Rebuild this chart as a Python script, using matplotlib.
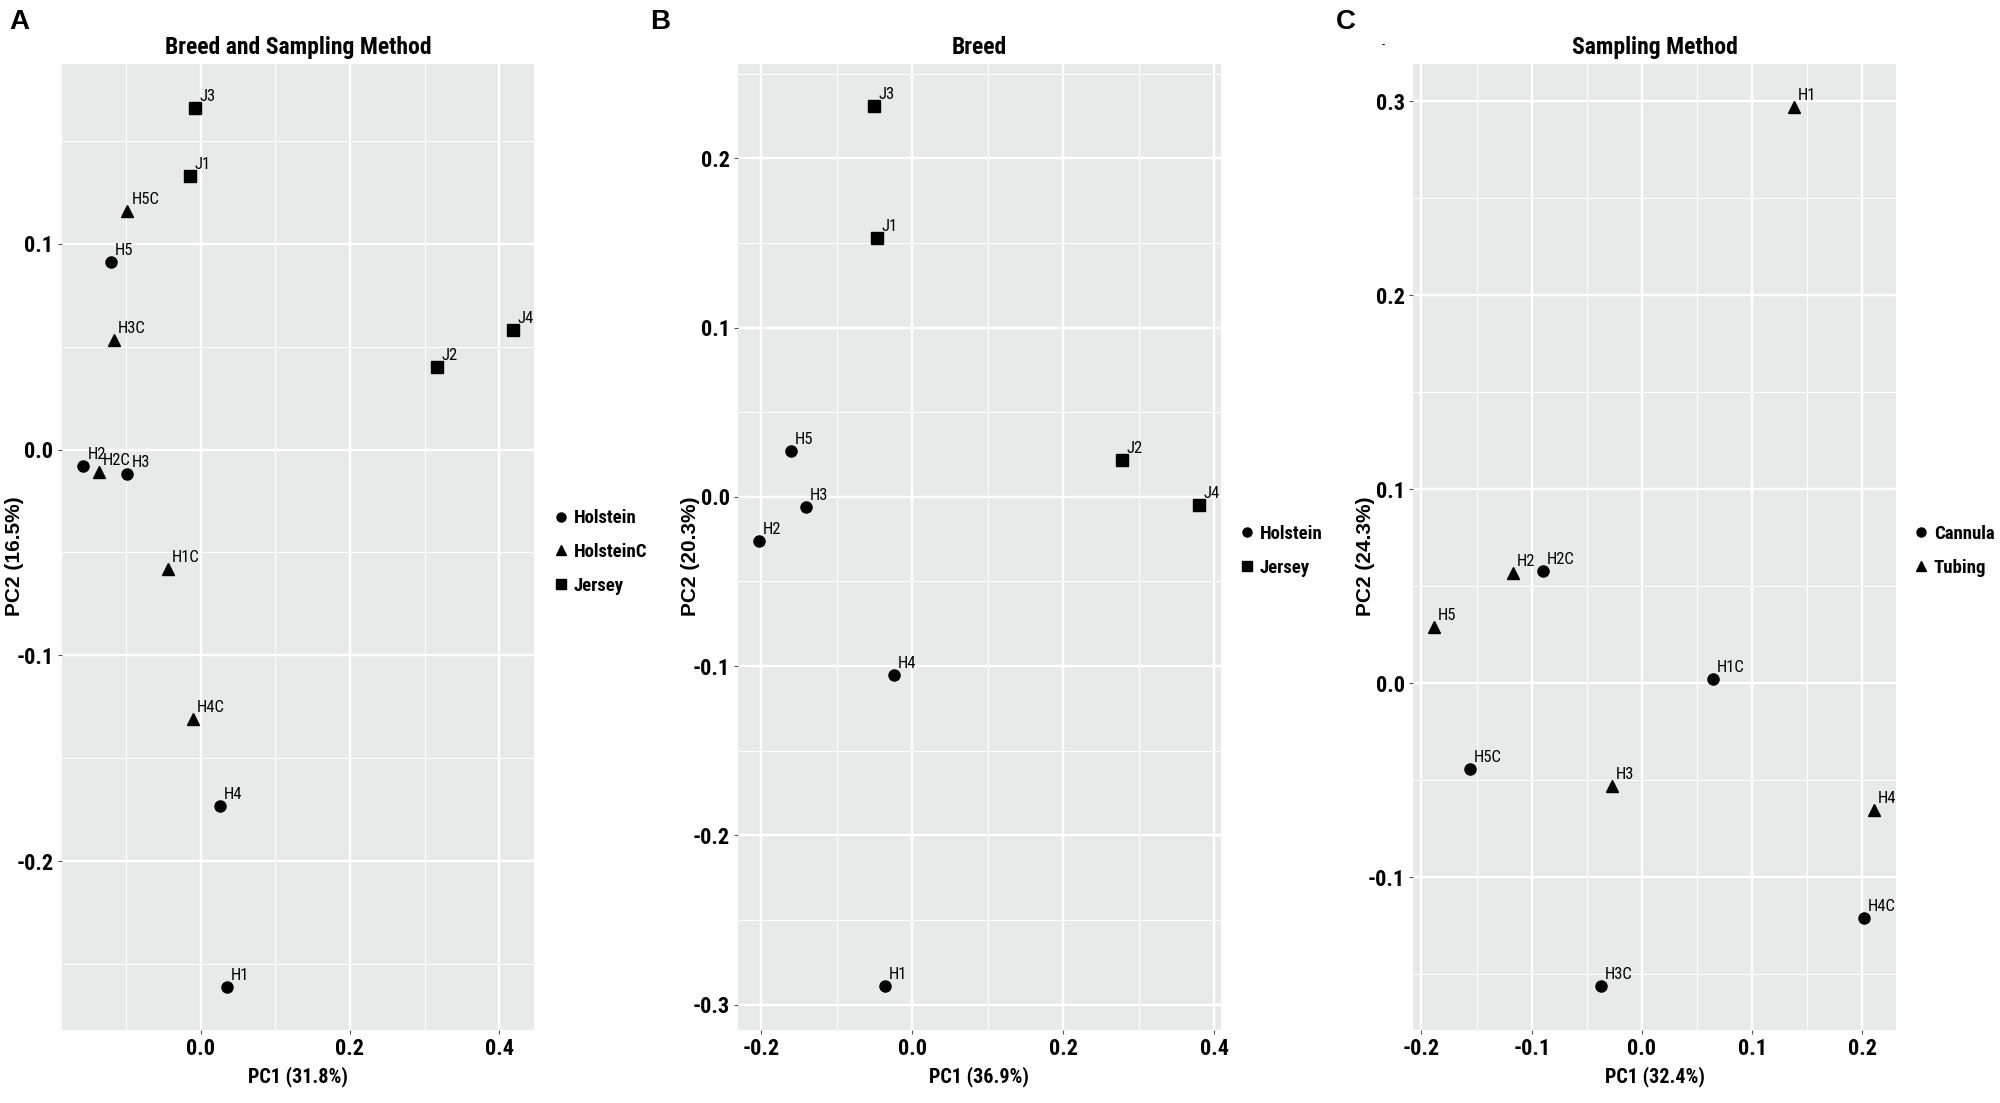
import matplotlib
matplotlib.use("Agg")
import matplotlib.pyplot as plt
from matplotlib import font_manager
from matplotlib.lines import Line2D
from matplotlib.ticker import FormatStrFormatter

# PCA scores
# A: breed and sampling method
labels_a = ['J3', 'J1', 'H5C', 'H5', 'H3C', 'J4', 'J2', 'H2', 'H2C', 'H3', 'H1C', 'H4C', 'H4', 'H1']
pc1_a = [-0.007, -0.014, -0.098, -0.120, -0.116, 0.419, 0.317, -0.157, -0.136, -0.098, -0.044, -0.010, 0.026, 0.035]
pc2_a = [0.166, 0.133, 0.116, 0.091, 0.053, 0.058, 0.040, -0.008, -0.011, -0.012, -0.058, -0.131, -0.173, -0.261]
group_a = ['Jersey', 'Jersey', 'HolsteinC', 'Holstein', 'HolsteinC', 'Jersey', 'Jersey',
           'Holstein', 'HolsteinC', 'Holstein', 'HolsteinC', 'HolsteinC', 'Holstein', 'Holstein']

# B: breed
labels_b = ['J3', 'J1', 'H5', 'J2', 'H3', 'J4', 'H2', 'H4', 'H1']
pc1_b = [-0.050, -0.046, -0.161, 0.278, -0.141, 0.380, -0.203, -0.024, -0.036]
pc2_b = [0.231, 0.153, 0.027, 0.022, -0.006, -0.005, -0.026, -0.105, -0.289]
group_b = ['Jersey', 'Jersey', 'Holstein', 'Jersey', 'Holstein', 'Jersey', 'Holstein', 'Holstein', 'Holstein']

# C: sampling method
labels_c = ['H1', 'H2', 'H2C', 'H5', 'H1C', 'H5C', 'H3', 'H4', 'H4C', 'H3C']
pc1_c = [0.138, -0.117, -0.090, -0.189, 0.064, -0.156, -0.027, 0.210, 0.201, -0.037]
pc2_c = [0.297, 0.057, 0.058, 0.029, 0.002, -0.044, -0.053, -0.065, -0.121, -0.156]
group_c = ['Tubing', 'Tubing', 'Cannula', 'Tubing', 'Cannula', 'Cannula', 'Tubing', 'Tubing', 'Cannula', 'Cannula']

# the reference text is a squeezed Helvetica: use a condensed face when one is installed
entries = font_manager.fontManager.ttflist
bold_ok = {f.name for f in entries if f.weight in (700, 'bold') and '[' not in f.fname}
narrow = None
for cand in ['Liberation Sans Narrow', 'Roboto Condensed', 'PT Sans Narrow', 'Barlow Condensed',
             'Asap Condensed']:
    if cand in bold_ok:
        narrow = cand
        break
k = 1.0
if narrow is None:
    narrow = 'Liberation Sans'
    k = 0.8
plt.rcParams['font.family'] = [narrow, 'DejaVu Sans']
plt.rcParams['axes.unicode_minus'] = False

W, H = 2000, 1103
fig = plt.figure(figsize=(W / 100, H / 100), dpi=100)

panel_bg = '#E8EAE9'
markers = {'Holstein': 'o', 'HolsteinC': '^', 'Jersey': 's', 'Cannula': 'o', 'Tubing': '^'}
msize = {'o': 8, '^': 9, 's': 8}

panels = [
    dict(letter='A', title='Breed and Sampling Method', x=pc1_a, y=pc2_a, lab=labels_a, grp=group_a,
         order=['Holstein', 'HolsteinC', 'Jersey'], rect=[61.6, 534.4],
         xlim=(-0.186, 0.447), ylim=(-0.282, 0.1875),
         xmaj=[0.0, 0.2, 0.4], xmin=[-0.1, 0.1, 0.3],
         ymaj=[-0.2, -0.1, 0.0, 0.1], ymin=[-0.25, -0.15, -0.05, 0.05, 0.15],
         xlabel='PC1 (31.8%)', ylabel='PC2 (16.5%)', leg=(554, 552), lx=9),
    dict(letter='B', title='Breed', x=pc1_b, y=pc2_b, lab=labels_b, grp=group_b,
         order=['Holstein', 'Jersey'], rect=[737.9, 1220.5],
         xlim=(-0.2307, 0.4083), ylim=(-0.315, 0.2559),
         xmaj=[-0.2, 0.0, 0.2, 0.4], xmin=[-0.1, 0.1, 0.3],
         ymaj=[-0.3, -0.2, -0.1, 0.0, 0.1, 0.2], ymin=[-0.25, -0.15, -0.05, 0.05, 0.15, 0.25],
         xlabel='PC1 (36.9%)', ylabel='PC2 (20.3%)', leg=(1240, 551), lx=650),
    dict(letter='C', title='Sampling Method', x=pc1_c, y=pc2_c, lab=labels_c, grp=group_c,
         order=['Cannula', 'Tubing'], rect=[1413, 1896],
         xlim=(-0.2077, 0.2304), ylim=(-0.1786, 0.3193),
         xmaj=[-0.2, -0.1, 0.0, 0.1, 0.2], xmin=[-0.15, -0.05, 0.05, 0.15],
         ymaj=[-0.1, 0.0, 0.1, 0.2, 0.3], ymin=[-0.15, -0.05, 0.05, 0.15, 0.25],
         xlabel='PC1 (32.4%)', ylabel='PC2 (24.3%)', leg=(1914, 551), lx=1336),
]

top_px, bot_px = 63.6, 1030
for p in panels:
    left, right = p['rect']
    ax = fig.add_axes([left / W, 1 - bot_px / H, (right - left) / W, (bot_px - top_px) / H])
    ax.set_facecolor(panel_bg)
    for s in ax.spines.values():
        s.set_visible(False)
    ax.set_xlim(*p['xlim'])
    ax.set_ylim(*p['ylim'])
    ax.set_xticks(p['xmaj'])
    ax.set_yticks(p['ymaj'])
    ax.set_xticks(p['xmin'], minor=True)
    ax.set_yticks(p['ymin'], minor=True)
    ax.xaxis.set_major_formatter(FormatStrFormatter('%.1f'))
    ax.yaxis.set_major_formatter(FormatStrFormatter('%.1f'))
    ax.grid(which='major', color='white', lw=1.7)
    ax.grid(which='minor', color='white', lw=0.7)
    ax.set_axisbelow(True)
    ax.tick_params(which='major', length=3, width=0.8, color='#555555', pad=3,
                   labelsize=16 * k, labelcolor='black')
    ax.tick_params(which='minor', length=0)
    for t in ax.get_xticklabels() + ax.get_yticklabels():
        t.set_fontweight('bold')

    # points and their sample labels
    for g in p['order']:
        idx = [i for i, v in enumerate(p['grp']) if v == g]
        m = markers[g]
        ax.plot([p['x'][i] for i in idx], [p['y'][i] for i in idx], ls='none',
                marker=m, ms=msize[m], color='black', mec='black')
    for xi, yi, name in zip(p['x'], p['y'], p['lab']):
        ax.annotate(name, (xi, yi), xytext=(4, 7), textcoords='offset pixels',
                    ha='left', va='baseline', fontsize=12 * k)

    ax.set_title(p['title'], fontsize=17 * k, fontweight='bold', pad=7)
    ax.set_xlabel(p['xlabel'], fontsize=14.5 * k, fontweight='bold')
    ax.xaxis.set_label_coords(0.5, -0.038)
    ax.set_ylabel(p['ylabel'], fontsize=15, fontweight='bold', family='Liberation Sans')
    ax.yaxis.set_label_coords(-38 / (right - left), 0.49)

    # legend to the right of each panel
    handles = [Line2D([], [], ls='none', marker=markers[g], ms=msize[markers[g]] - 1.5,
                      color='black') for g in p['order']]
    fig.legend(handles, p['order'], loc='center left',
               bbox_to_anchor=(p['leg'][0] / W, 1 - p['leg'][1] / H),
               frameon=False, handlelength=0.7, handletextpad=0.35, labelspacing=0.85,
               borderpad=0, borderaxespad=0,
               prop={'family': narrow, 'weight': 'bold', 'size': 13.5 * k})

    fig.text(p['lx'] / W, 1 - 9 / H, p['letter'], fontsize=20, fontweight='bold',
             family='Liberation Sans', ha='left', va='top')

# small stray dash printed above panel C
fig.text(1383 / W, 1 - 45 / H, '-', fontsize=9, ha='center', va='center')

fig.savefig('out.png', dpi=100, facecolor='white')
